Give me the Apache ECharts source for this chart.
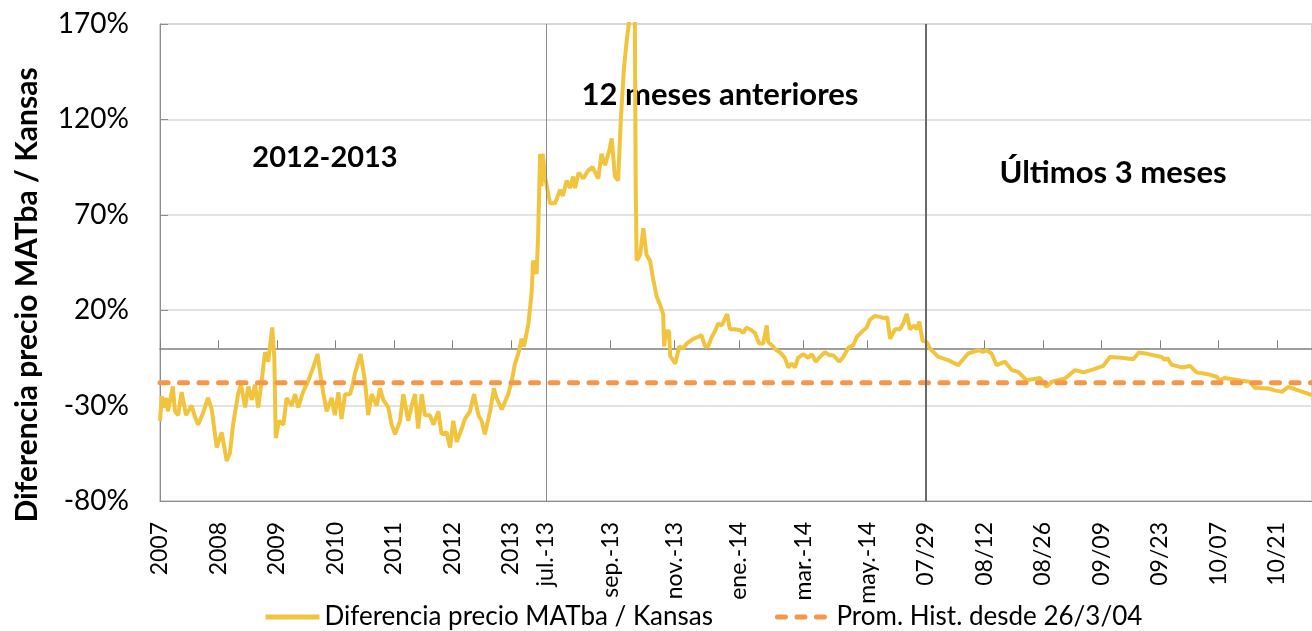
<!DOCTYPE html>
<html>
<head>
<meta charset="utf-8">
<script src="https://cdn.jsdelivr.net/npm/echarts@6/dist/echarts.min.js"></script>
<style>
html, body { margin: 0; padding: 0; background: #fff; }
#main { width: 1312px; height: 631px; }
</style>
</head>
<body>
<div id="main"></div>
<script>
// eje x compuesto: posicion = n° de observacion (3 tramos con distinta escala)
var tickPos = [0, 20, 40, 60, 80, 100, 120, 132, 154, 176, 198, 220, 242, 262, 282, 302, 322, 342, 362, 382];
var tickLabels = ['2007', '2008', '2009', '2010', '2011', '2012', '2013', 'jul.-13', 'sep.-13', 'nov.-13',
    'ene.-14', 'mar.-14', 'may.-14', '07/29', '08/12', '08/26', '09/09', '09/23', '10/07', '10/21'];
var axisEnd = 394;
var cortes = [132, 262]; // 2012-2013 | 12 meses | ultimos 3 meses

// Diferencia precio MATba / Kansas (%)
var tramo2012 = [[0,-38],[0.6,-25],[1.4,-31],[2.1,-26],[2.7,-33],[4.4,-20],[5.1,-33],[6.2,-35],[7.4,-23],[8.9,-35],
    [10.8,-30],[12,-36],[13,-40],[14.7,-34],[16.4,-26],[17.7,-32],[19.4,-52],[21.1,-44],[22.8,-59],[23.9,-55],
    [25,-40],[26.7,-24],[27.7,-19],[29.1,-31],[30.2,-20],[31.4,-27],[32.5,-19],[33.6,-31],[34.8,-17],[35.9,-2],
    [37,-7],[38.4,11],[39.1,-5],[39.6,-47],[40.7,-38],[42.2,-40],[43.3,-26],[45,-30],[46.2,-24],[47.3,-31],
    [48.9,-23],[50.7,-17],[52.4,-10],[53.9,-3],[54.7,-12],[55.8,-23],[57,-33],[58.7,-26],[59.8,-35],[61,-23],
    [62.1,-37],[63.3,-24],[65,-24],[65.6,-21],[66.7,-13],[68.6,-3],[70.1,-17],[71.2,-35],[72.4,-24],[74.1,-30],
    [75.2,-21],[76.4,-27],[78.1,-31],[79.2,-40],[80.4,-45],[82.1,-38],[83.2,-24],[84.9,-38],[86.1,-30],[87.2,-24],
    [88.3,-42],[89.5,-24],[90.6,-35],[92.3,-35],[93.5,-40],[95.2,-33],[96.3,-45],[98,-44],[99.2,-52],[100.3,-38],
    [101.5,-49],[103.2,-42],[104.3,-37],[106,-33],[107.4,-24],[108.9,-35],[110,-38],[111.1,-45],[112.9,-33],[114.2,-21],
    [115.1,-26],[116.9,-32],[118,-28],[119.1,-24],[120.3,-17],[121.4,-8],[122.5,-3],[123.7,5],[124.5,1],[126,13],
    [127.1,29],[127.6,46],[128.8,39],[129.3,58],[130,102],[130.5,85],[130.9,102],[131.7,90]];

var tramo12m = [[133.4,76],[135.1,76],[136.8,83],[137.8,80],[139.1,88],[140.2,84],[141.3,90],[141.9,84],[143.2,92],[144.8,89],
    [146.3,93],[147.9,95],[149.9,89],[151,102],[152.2,96],[153.7,104],[154.5,110],[155.6,90],[156.7,88],[157.6,120],
    [158.7,147],[159.6,161],[160.5,172],[161.4,180],[162.4,175],[162.7,85],[163,46],[164.2,49],[165.3,63],[166.4,49],
    [167.6,46],[168.7,36],[169.9,27],[171,23],[172.1,18],[172.4,1],[173.1,9],[174.1,9],[174.5,-4],[176.2,-8],
    [177.6,1],[179,0],[180.1,2.5],[182.4,5],[184.1,6],[185.2,7],[186.4,1],[187.5,1],[188.7,6],[189.8,9],
    [190.9,13],[192.1,12],[194,18],[194.9,10],[196.6,10],[198.4,9.5],[199.5,8],[200.6,11],[202.3,9.5],[203.5,8],
    [204.9,2.5],[206.3,2.5],[207.5,12],[208,3.4],[209.2,1.7],[210.9,-1],[212,-2],[213.7,-5],[214.9,-10],[216,-8],
    [217.2,-10],[218.2,-5],[220,-3],[221.7,-5],[222.9,-3],[224.3,-7],[225.7,-4.5],[227.4,-2],[228.9,-3.6],[230.3,-3.6],
    [232.3,-7],[233.7,-4.5],[235.4,0.3],[237.1,1.7],[238.3,6],[240,8.6],[241.7,11],[242.8,15],[244.5,17],[246.2,16.5],
    [247.9,15.7],[248.7,16.5],[249.7,5],[251.4,10],[253.1,10],[254.2,13],[255.4,18],[256.5,10],[257.9,12],[258.8,10],
    [259.7,14],[260.8,4],[262.2,3.4]];

var tramo3m = [[263.3,0],[266.2,-4.5],[269.6,-6.2],[273,-8.8],[276.4,-2.7],[279.8,-1],[281.6,-1.8],[282.7,-1],[284.4,-2.7],[286.1,-8.8],
    [289,-7],[291.3,-11.4],[293.5,-12.3],[296.4,-16.7],[301,-15.5],[303.2,-20.2],[305,-17.5],[309.5,-15.8],[313,-11.4],[315.8,-12.6],
    [319.2,-11],[322.6,-9.2],[324.9,-4.5],[328.9,-4.9],[332.9,-5.7],[334.8,-2.2],[338,-3],[342.6,-4.5],[343.7,-6.2],[344.5,-5],
    [345.9,-8.5],[349.4,-10],[352.3,-9.2],[354.5,-12.6],[358.5,-13.6],[361.4,-14.9],[362.5,-16.7],[364.2,-15.5],[369.9,-17],[372.7,-17.5],
    [374.5,-20.7],[379,-21],[381.3,-22],[383.7,-22.8],[385.9,-20.2],[389.3,-22],[394,-24.5]];

var promHist = -18; // Prom. Hist. desde 26/3/04

var FONT = 'Lato';

var chart = echarts.init(document.getElementById('main'));

var labelDe = {};
for (var i = 0; i < tickPos.length; i++) {
    labelDe[tickPos[i]] = tickLabels[i];
}

var option = {
    backgroundColor: '#ffffff',
    animation: false,
    grid: {
        left: 160, right: -1, top: 24, bottom: 130,
        show: true, borderColor: '#a6a6a6', borderWidth: 1
    },
    legend: {
        left: 258, top: 599,
        itemWidth: 54, itemHeight: 14, itemGap: 62,
        itemStyle: { opacity: 0 },
        lineStyle: { width: 5 },
        textStyle: { fontFamily: FONT, fontSize: 26, color: '#000' },
        data: ['Diferencia precio MATba / Kansas', 'Prom. Hist. desde 26/3/04']
    },
    xAxis: [{
        type: 'value', min: 0, max: axisEnd,
        axisLine: { onZero: false, lineStyle: { color: '#8c8c8c', width: 1 } },
        axisTick: { show: false },
        splitLine: { show: false },
        axisLabel: {
            customValues: tickPos,
            formatter: function (v) { return labelDe[v] || ''; },
            rotate: 90, margin: 21,
            fontFamily: FONT, fontSize: 23, color: '#000'
        }
    }, {
        // linea del cero con marcas
        type: 'value', min: 0, max: axisEnd, position: 'bottom',
        axisLine: { onZero: true, lineStyle: { color: '#7f7f7f', width: 1.5 } },
        axisTick: { show: true, inside: true, length: 8, customValues: tickPos, lineStyle: { color: '#7f7f7f' } },
        axisLabel: { show: false },
        splitLine: { show: false }
    }],
    yAxis: {
        type: 'value', min: -80, max: 170, interval: 50,
        axisLine: { show: true, lineStyle: { color: '#8c8c8c' } },
        axisTick: { show: true, inside: true, length: 8, lineStyle: { color: '#8c8c8c' } },
        axisLabel: { formatter: '{value}%', fontFamily: FONT, fontSize: 28, color: '#000', margin: 31 },
        splitLine: { lineStyle: { color: '#d9d9d9', width: 1.5 } }
    },
    graphic: [
        { type: 'text', x: 27, y: 295, rotation: Math.PI / 2,
          style: { text: 'Diferencia precio MATba / Kansas', font: 'bold 30px Lato', fill: '#000', align: 'center', verticalAlign: 'middle' } },
        { type: 'text', x: 325, y: 158,
          style: { text: '2012-2013', font: 'bold 29px Lato', fill: '#000', align: 'center', verticalAlign: 'middle' } },
        { type: 'text', x: 720, y: 95,
          style: { text: '12 meses anteriores', font: 'bold 31px Lato', fill: '#000', align: 'center', verticalAlign: 'middle' } },
        { type: 'text', x: 1113, y: 173,
          style: { text: 'Últimos 3 meses', font: 'bold 31px Lato', fill: '#000', align: 'center', verticalAlign: 'middle' } }
    ],
    series: [{
        name: 'Diferencia precio MATba / Kansas',
        type: 'line',
        xAxisIndex: 0,
        data: tramo2012.concat(tramo12m, tramo3m),
        symbol: 'none',
        lineStyle: { color: '#F2C43E', width: 4 },
        itemStyle: { color: '#F2C43E' },
        z: 3,
        markLine: {
            silent: true,
            symbol: ['none', 'none'],
            label: { show: false },
            data: [
                { xAxis: cortes[0], lineStyle: { color: '#8c8c8c', width: 1, type: 'solid' } },
                { xAxis: cortes[1], lineStyle: { color: '#6a6a6a', width: 2, type: 'solid' } }
            ]
        }
    }, {
        name: 'Prom. Hist. desde 26/3/04',
        type: 'line',
        xAxisIndex: 0,
        data: [[0, promHist], [axisEnd, promHist]],
        symbol: 'none',
        lineStyle: { color: '#F79646', width: 5, type: [8, 11.5], cap: 'round' },
        itemStyle: { color: '#F79646' },
        z: 4
    }]
};

chart.setOption(option);
</script>
</body>
</html>
